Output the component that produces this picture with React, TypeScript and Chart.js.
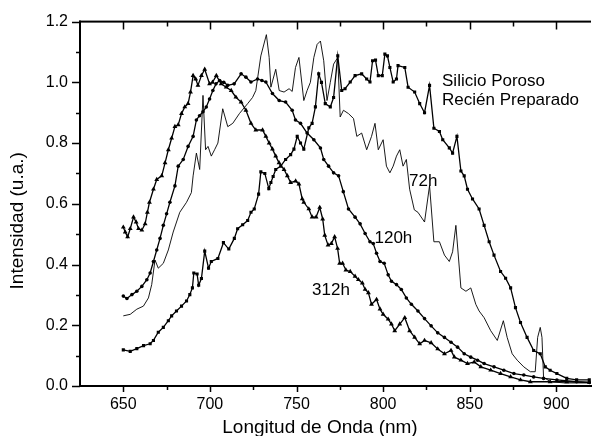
import React, { useEffect, useRef } from "react";
import { Chart, registerables } from "chart.js";

Chart.register(...registerables);

// ---- axis ticks ----
const X_TICKS = [650, 700, 750, 800, 850, 900];
const X_MINOR = [675, 725, 775, 825, 875];
const Y_TICKS = [0, 0.2, 0.4, 0.6, 0.8, 1.0, 1.2];
const Y_MINOR = [0.1, 0.3, 0.5, 0.7, 0.9, 1.1];

// ---- Silicio Poroso Recién Preparado (squares) ----
const FRESH_X = [650, 654, 657.8, 661.7, 665.5, 667.4, 670.2, 673.1, 676, 677.9, 680.7, 683.6, 686.5, 688.4, 689.9, 690.7, 692.6, 693.5, 695.1, 697, 699.2, 700.8, 704.6, 707.8, 710.9, 714.1, 716, 718.9, 721.8, 723.7, 725.6, 728.1, 729.4, 731.7, 734, 735.2, 736.5, 738, 740.9, 743.7, 746.6, 748.5, 750.4, 752.3, 754.2, 757.1, 759, 760.9, 762.8, 764.4, 766.6, 769.5, 771.4, 773.8, 776.1, 778, 781, 783.8, 787.6, 790.5, 792.4, 793.9, 795.6, 797.2, 799.5, 801, 802.5, 803.9, 805.8, 807.7, 808.6, 812.5, 814.4, 818.2, 821.1, 823.9, 826.8, 829.3, 832.5, 834.4, 838.2, 840.1, 842.6, 844.9, 846.8, 848.7, 851.6, 855.4, 858.3, 861.2, 864, 867.8, 870.7, 873.6, 876.4, 879.3, 883.1, 886.9, 890.7, 893.6, 896.4, 900.3, 906, 911.7, 919];
const FRESH_Y = [0.119, 0.114, 0.123, 0.133, 0.139, 0.15, 0.177, 0.193, 0.215, 0.231, 0.247, 0.263, 0.28, 0.301, 0.323, 0.372, 0.369, 0.332, 0.354, 0.444, 0.388, 0.41, 0.42, 0.472, 0.451, 0.486, 0.518, 0.531, 0.545, 0.572, 0.583, 0.632, 0.705, 0.7, 0.65, 0.67, 0.69, 0.713, 0.724, 0.746, 0.762, 0.78, 0.822, 0.8, 0.78, 0.85, 0.865, 0.919, 1.028, 1.0, 0.93, 0.919, 0.95, 1.087, 0.973, 0.979, 1.001, 1.022, 1.028, 1.011, 1.001, 1.071, 1.073, 1.022, 1.022, 1.093, 1.087, 1.049, 1.001, 1.011, 1.055, 1.049, 0.984, 0.968, 0.93, 0.9, 0.99, 0.849, 0.838, 0.811, 0.784, 0.767, 0.822, 0.708, 0.692, 0.648, 0.616, 0.583, 0.529, 0.475, 0.431, 0.377, 0.355, 0.323, 0.258, 0.209, 0.16, 0.117, 0.106, 0.063, 0.052, 0.041, 0.025, 0.02, 0.02];

// ---- 72h (thin line) ----
const H72_X = [650, 654, 657.8, 661.6, 664.5, 666.4, 668.3, 670.2, 673.1, 676, 678.8, 682.6, 686.5, 689.3, 690.3, 692.2, 694.1, 696, 697.5, 698.9, 700.8, 702.7, 704.6, 707.4, 710.3, 713.2, 717, 721.8, 724.6, 726.5, 729.4, 732.6, 734.2, 735.2, 738, 740, 742.8, 745.7, 747.5, 749.4, 751.4, 754.2, 756.1, 758, 760, 761.9, 763.8, 765.7, 767.6, 769.5, 771.4, 773.8, 775.2, 777.1, 780, 782.9, 784.8, 787.6, 790.5, 793.3, 795.3, 797.2, 800, 801.9, 803.9, 805.8, 807.7, 809.6, 811.5, 813.4, 815.3, 818, 820.1, 823.9, 826.8, 829.3, 832.5, 835.4, 838.2, 840.1, 842, 844.9, 847.8, 850.6, 853.5, 855.4, 858.3, 862.1, 865.9, 869.4, 871.6, 874.5, 877.4, 881.2, 885, 887.8, 889.2, 890.7, 891.7, 892.6, 896.4, 905, 919];
const H72_Y = [0.231, 0.236, 0.253, 0.263, 0.29, 0.334, 0.415, 0.388, 0.404, 0.448, 0.507, 0.572, 0.605, 0.637, 0.692, 0.767, 0.713, 0.957, 0.778, 0.789, 0.757, 0.778, 0.8, 0.913, 0.854, 0.865, 0.897, 0.93, 0.95, 0.973, 1.087, 1.157, 1.082, 0.984, 1.043, 0.973, 0.968, 0.979, 0.97, 1.049, 1.082, 0.94, 0.973, 1.0, 1.082, 1.125, 1.136, 1.071, 0.94, 1.0, 1.06, 1.082, 0.886, 0.908, 0.897, 0.881, 0.822, 0.833, 0.778, 0.822, 0.865, 0.778, 0.811, 0.724, 0.702, 0.724, 0.757, 0.778, 0.724, 0.746, 0.648, 0.58, 0.572, 0.54, 0.66, 0.475, 0.475, 0.431, 0.41, 0.442, 0.529, 0.323, 0.312, 0.323, 0.269, 0.247, 0.225, 0.182, 0.15, 0.215, 0.16, 0.106, 0.085, 0.063, 0.047, 0.047, 0.16, 0.193, 0.16, 0.03, 0.014, 0.01, 0.01];

// ---- 120h (dots) ----
const H120_X = [650, 652.1, 655, 657.8, 660.7, 663.6, 665.5, 667.4, 669.3, 671.2, 673.1, 675, 676.9, 679.8, 681.7, 684.6, 687.4, 690.3, 692.2, 694, 696, 697.9, 699.8, 701.7, 703.5, 705.6, 708, 710.3, 714, 718, 720.8, 723.7, 727.5, 730, 732.3, 736.1, 740, 743.7, 747.5, 749.4, 752.3, 756.1, 760, 763.8, 765.7, 768.5, 771.4, 774.3, 777, 780, 783.8, 786.7, 789.6, 792.4, 794.3, 796.2, 798.2, 800.6, 802.9, 804.8, 807.7, 810.5, 813.4, 816.3, 820.1, 823.9, 827.7, 831.5, 835.4, 839.2, 843, 846.8, 850.6, 854.5, 858.3, 864, 869.7, 875.5, 881.2, 886.9, 892.6, 900.3, 911.7, 919];
const H120_Y = [0.296, 0.288, 0.301, 0.312, 0.328, 0.35, 0.372, 0.41, 0.448, 0.486, 0.529, 0.567, 0.605, 0.659, 0.724, 0.746, 0.789, 0.822, 0.876, 0.89, 0.903, 0.919, 0.945, 0.973, 0.995, 1.006, 1.0, 0.99, 0.995, 1.028, 1.017, 1.001, 1.011, 1.006, 1.001, 0.963, 0.94, 0.935, 0.908, 0.876, 0.865, 0.833, 0.811, 0.784, 0.746, 0.724, 0.702, 0.692, 0.64, 0.583, 0.556, 0.534, 0.502, 0.475, 0.469, 0.437, 0.41, 0.404, 0.366, 0.345, 0.334, 0.318, 0.29, 0.269, 0.247, 0.222, 0.198, 0.175, 0.16, 0.144, 0.128, 0.106, 0.095, 0.085, 0.074, 0.063, 0.052, 0.041, 0.036, 0.03, 0.025, 0.02, 0.014, 0.012];

// ---- 312h (triangles) ----
const H312_X = [650, 651.1, 652.5, 654, 655.9, 657.4, 658.8, 660.7, 662.6, 663.9, 665.1, 667.4, 669.3, 672.2, 674.1, 676, 677.9, 679.8, 681.7, 683.6, 685.5, 687.4, 688.8, 690.3, 691.8, 693.1, 695.1, 697, 699.8, 701.5, 703.7, 706.5, 709.4, 712.3, 715, 718, 720.8, 723.7, 726.5, 730.4, 732.3, 734.2, 736.1, 738, 739.9, 742.8, 744.7, 746.6, 749.5, 751.4, 753.3, 754.2, 757.1, 759, 761.3, 763.4, 765.1, 766.3, 768.2, 770.1, 772, 773.7, 774.9, 776.6, 778.5, 781, 783.8, 785.7, 788, 789.6, 791.5, 793.3, 796.2, 798.2, 800, 802.9, 804.8, 806.7, 809.6, 812.5, 815.3, 818.2, 821.1, 823.9, 827.7, 831.5, 835.4, 839.2, 841.1, 844.9, 848.7, 852.6, 856.4, 862.1, 867.8, 873.6, 879.3, 885, 896.4, 906, 919];
const H312_Y = [0.523, 0.507, 0.491, 0.518, 0.556, 0.54, 0.518, 0.513, 0.534, 0.572, 0.605, 0.648, 0.68, 0.692, 0.735, 0.778, 0.816, 0.854, 0.86, 0.897, 0.919, 0.93, 0.968, 1.022, 1.011, 0.99, 1.022, 1.043, 0.995, 1.0, 1.022, 0.995, 0.984, 0.973, 0.951, 0.935, 0.908, 0.865, 0.843, 0.843, 0.822, 0.8, 0.78, 0.757, 0.735, 0.713, 0.692, 0.67, 0.675, 0.665, 0.616, 0.605, 0.583, 0.556, 0.556, 0.588, 0.55, 0.496, 0.464, 0.469, 0.491, 0.453, 0.404, 0.404, 0.382, 0.377, 0.361, 0.35, 0.339, 0.318, 0.307, 0.269, 0.285, 0.253, 0.236, 0.22, 0.204, 0.182, 0.204, 0.225, 0.182, 0.16, 0.139, 0.15, 0.142, 0.122, 0.106, 0.117, 0.095, 0.085, 0.074, 0.079, 0.063, 0.052, 0.041, 0.03, 0.02, 0.014, 0.014, 0.014, 0.012];

// ---- text annotations (anchored in data units) ----
const NOTE_TEXT = ["Silicio Poroso", "Recién Preparado", "72h", "120h", "312h"];
const NOTE_X = [834, 834, 815, 795, 759];
const NOTE_Y = [0.989, 0.924, 0.66, 0.471, 0.299];

const X_TITLE = "Longitud de Onda (nm)";
const Y_TITLE = "Intensidad (u.a.)";

const FONT = '"Liberation Sans", Arial, Helvetica, sans-serif';

function pts(xs: number[], ys: number[]) {
  return xs.map((x, i) => ({ x, y: ys[i] }));
}

const framePlugin = {
  id: "frame",
  afterDraw(chart: any) {
    const { ctx, chartArea: a } = chart;
    const xs = chart.scales.x;
    const ys = chart.scales.y;
    ctx.save();
    ctx.globalAlpha = 1;
    ctx.strokeStyle = "#000000";
    ctx.lineCap = "butt";
    ctx.setLineDash([]);
    // axes lines (frame)
    ctx.fillStyle = "#000000";
    ctx.fillRect(a.left - 1, a.top - 1, 2, a.bottom - a.top + 2);
    ctx.fillRect(a.left - 1, a.bottom - 1, a.right - a.left + 1, 2);
    ctx.fillRect(a.left - 1, a.top - 1, a.right - a.left + 1, 2);
    // ticks
    ctx.lineWidth = 1.5;
    ctx.beginPath();
    X_TICKS.forEach((v) => {
      const p = Math.round(xs.getPixelForValue(v)) + 0.5;
      ctx.moveTo(p, a.bottom);
      ctx.lineTo(p, a.bottom + 6);
      ctx.moveTo(p, a.top);
      ctx.lineTo(p, a.top + 8);
    });
    X_MINOR.forEach((v) => {
      const p = Math.round(xs.getPixelForValue(v)) + 0.5;
      ctx.moveTo(p, a.bottom);
      ctx.lineTo(p, a.bottom + 4);
      ctx.moveTo(p, a.top);
      ctx.lineTo(p, a.top + 5);
    });
    Y_TICKS.forEach((v) => {
      const p = Math.round(ys.getPixelForValue(v)) + 0.5;
      ctx.moveTo(a.left - 8, p);
      ctx.lineTo(a.left, p);
    });
    Y_MINOR.forEach((v) => {
      const p = Math.round(ys.getPixelForValue(v)) + 0.5;
      ctx.moveTo(a.left - 4, p);
      ctx.lineTo(a.left, p);
    });
    ctx.stroke();

    // axis titles
    ctx.font = `19px ${FONT}`;
    ctx.textAlign = "center";
    ctx.textBaseline = "alphabetic";
    ctx.fillText(X_TITLE, a.left + 240, chart.height - 3);
    ctx.save();
    ctx.translate(23, (a.top + a.bottom) / 2 + 17);
    ctx.rotate(-Math.PI / 2);
    ctx.fillText(Y_TITLE, 0, 0);
    ctx.restore();

    // annotations
    ctx.font = `17px ${FONT}`;
    ctx.textAlign = "left";
    NOTE_TEXT.forEach((t, i) => {
      ctx.fillText(t, xs.getPixelForValue(NOTE_X[i]), ys.getPixelForValue(NOTE_Y[i]));
    });
    ctx.restore();
  },
};

export default function App() {
  const ref = useRef<HTMLCanvasElement | null>(null);
  useEffect(() => {
    document.body.style.margin = "0";
    const canvas = ref.current;
    if (!canvas) return;
    const common = { borderColor: "#000", backgroundColor: "#000", pointBackgroundColor: "#000", pointBorderColor: "#000", pointBorderWidth: 0, showLine: true, tension: 0, fill: false };
    const chart = new Chart(canvas, {
      type: "scatter",
      data: {
        datasets: [
          { ...common, label: "312h", data: pts(H312_X, H312_Y), borderWidth: 1.3, pointStyle: "triangle", pointRadius: 2.8 },
          { ...common, label: "120h", data: pts(H120_X, H120_Y), borderWidth: 1.3, pointStyle: "circle", pointRadius: 1.8 },
          { ...common, label: "72h", data: pts(H72_X, H72_Y), borderWidth: 0.9, pointRadius: 0 },
          { ...common, label: "Silicio Poroso Recién Preparado", data: pts(FRESH_X, FRESH_Y), borderWidth: 1.3, pointStyle: "rect", pointRadius: 2.2 },
        ],
      } as any,
      options: {
        animation: false,
        responsive: false,
        devicePixelRatio: 1,
        layout: { padding: { top: 17, right: 0, left: 0, bottom: 0 } },
        plugins: { legend: { display: false }, tooltip: { enabled: false } },
        scales: {
          x: {
            type: "linear",
            min: 625,
            max: 920,
            grid: { display: false, drawTicks: false },
            border: { display: true, color: "#000", width: 2 },
            afterBuildTicks: (s: any) => { s.ticks = X_TICKS.map((v) => ({ value: v })); },
            afterFit: (s: any) => { s.height = 50; },
            ticks: { color: "#000", padding: 9, maxRotation: 0, font: { family: FONT, size: 16 }, callback: (v: any) => String(v) },
          },
          y: {
            type: "linear",
            min: 0,
            max: 1.2,
            grid: { display: false, drawTicks: false },
            border: { display: true, color: "#000", width: 2 },
            afterBuildTicks: (s: any) => { s.ticks = Y_TICKS.map((v) => ({ value: v })); },
            afterFit: (s: any) => { s.width = 80; },
            ticks: { color: "#000", padding: 12, font: { family: FONT, size: 16 }, callback: (v: any) => Number(v).toFixed(1) },
          },
        },
      } as any,
      plugins: [framePlugin],
    });
    return () => chart.destroy();
  }, []);
  return <canvas ref={ref} width={595} height={436} style={{ display: "block" }} />;
}
